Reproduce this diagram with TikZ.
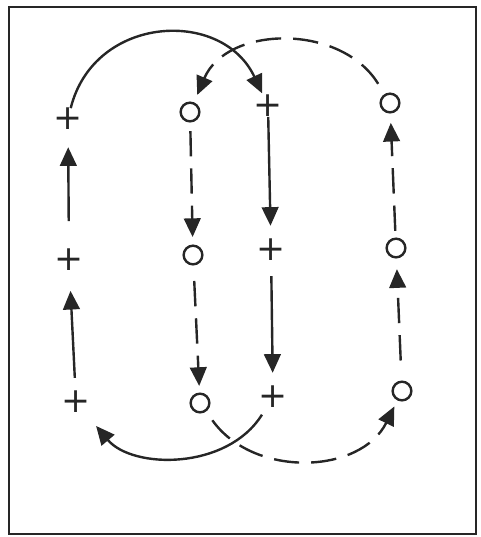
\documentclass[tikz,border=0pt]{standalone}
\usepackage{fontspec}
\newfontfamily\markfont{DejaVu Sans}
\usetikzlibrary{arrows.meta}
\definecolor{ink}{gray}{0.15}
\begin{document}
\begin{tikzpicture}[x=0.75pt,y=0.75pt,
  plusmark/.style={inner sep=0pt, outer sep=0pt, font=\markfont\fontsize{26}{26}\selectfont, text=ink},
  circmark/.style={circle, draw=ink, line width=1.8pt, inner sep=0pt, minimum size=14pt},
  conn/.style={draw=ink, line width=1.8pt, -{Triangle[length=14pt,width=12.5pt]}},
  dashconn/.style={conn, dash pattern=on 19pt off 9pt},
  frame/.style={draw=ink, line width=2.2pt}
]
\useasboundingbox (0,0) rectangle (480,-537);
\draw[frame] (9,-7) rectangle (476,-534);

\node[plusmark] (p1t) at (68,-119) {+};
\node[plusmark] (p1m) at (69,-260) {+};
\node[plusmark] (p1b) at (76,-402) {+};
\node[circmark] (c2t) at (190,-112) {};
\node[circmark] (c2m) at (193,-255) {};
\node[circmark] (c2b) at (200,-403) {};
\node[plusmark] (p3t) at (268,-106) {+};
\node[plusmark] (p3m) at (271,-250) {+};
\node[plusmark] (p3b) at (273,-397) {+};
\node[circmark] (c4t) at (390,-103) {};
\node[circmark] (c4m) at (396,-248) {};
\node[circmark] (c4b) at (402,-391) {};

\draw[conn, shorten <=10pt, shorten >=15pt] (p1b) -- (p1m);
\draw[conn, shorten <=21pt, shorten >=13pt] (p1m) -- (p1t);
\draw[conn, shorten >=1.5pt] (p1t) to[out=76,in=115,looseness=1.28] (p3t);
\draw[conn, shorten >=10pt] (p3t) -- (p3m);
\draw[conn, shorten <=11.5pt, shorten >=10pt] (p3m) -- (p3b);
\draw[conn, shorten <=6pt, shorten >=12.8pt] (p3b) to[out=-122,in=-50,looseness=1.04] (p1b);

\draw[dashconn, shorten <=6.4pt, shorten >=5.6pt] (c2t) -- (c2m);
\draw[dashconn, shorten <=11.6pt, shorten >=4.9pt] (c2m) -- (c2b);
\draw[dashconn, shorten <=8pt, shorten >=5pt] (c2b) to[out=-54.5,in=-116.4,looseness=1.1] (c4b);
\draw[dashconn, shorten <=15pt, shorten >=8pt] (c4b) -- (c4m);
\draw[dashconn, shorten <=5pt, shorten >=7pt] (c4m) -- (c4t);
\draw[dashconn, shorten <=9pt, shorten >=6pt] (c4t) to[out=121.7,in=67,looseness=1.12] (c2t);
\end{tikzpicture}
\end{document}
